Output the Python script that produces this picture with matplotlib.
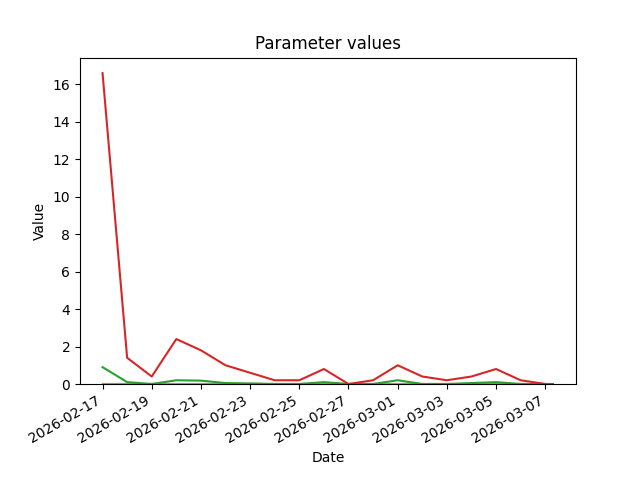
import matplotlib
matplotlib.use('Agg')
import matplotlib.pyplot as plt
import matplotlib.dates as mdates
import pandas as pd

dates = pd.date_range('2026-02-17', '2026-03-07', freq='D')
# first series runs a few hours past the last day
dates_a = list(dates) + [pd.Timestamp('2026-03-07 08:00')]

series_a = [0.0] * len(dates_a)
series_b = [0.0] * len(dates)
series_c = [0.9, 0.1, 0.0, 0.2, 0.18, 0.05, 0.03, 0.0, 0.0, 0.1,
            0.0, 0.0, 0.2, 0.0, 0.0, 0.05, 0.1, 0.0, 0.0]
series_d = [16.6, 1.4, 0.4, 2.4, 1.8, 1.0, 0.6, 0.2, 0.2, 0.8,
            0.0, 0.2, 1.0, 0.4, 0.2, 0.4, 0.8, 0.2, 0.0]

fig, ax = plt.subplots(figsize=(6.4, 4.8), dpi=100)
ax.plot(dates_a, series_a, color='C0')
ax.plot(dates, series_b, color='C1')
ax.plot(dates, series_c, color='C2')
ax.plot(dates, series_d, color='C3')

ax.set_ylim(bottom=0)
ax.xaxis.set_major_locator(mdates.DayLocator(interval=2))
ax.xaxis.set_major_formatter(mdates.DateFormatter('%Y-%m-%d'))
ax.set_title('Parameter values')
ax.set_xlabel('Date')
ax.set_ylabel('Value')
fig.autofmt_xdate()

fig.savefig('out.png')
